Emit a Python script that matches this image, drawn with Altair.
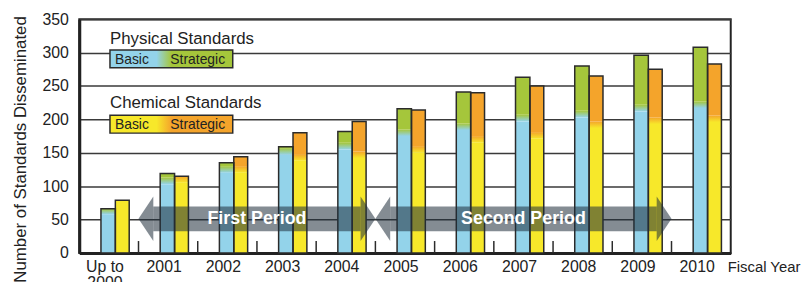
import altair as alt
import pandas as pd

# ---- data ----
year_labels = ["Up to\n2000", "2001", "2002", "2003", "2004", "2005",
               "2006", "2007", "2008", "2009", "2010"]
phys_basic = [63, 108, 125, 152, 160, 180, 189, 202, 208, 217, 222]
phys_strategic = [3, 11, 10, 7, 22, 36, 52, 61, 72, 79, 86]
chem_basic = [79, 110, 125, 143, 147, 155, 170, 176, 192, 198, 201]
chem_strategic = [0, 5, 19, 37, 50, 59, 70, 74, 73, 77, 82]

period_labels = ["First Period", "Second Period"]
period_start = [0.5, 4.5]
period_end = [4.5, 9.5]

y_ticks = [0, 50, 100, 150, 200, 250, 300, 350]

BLUE, GREEN = "#93D3EA", "#A5C63B"
YELLOW, ORANGE = "#F7E82A", "#F4A42B"
DARK = "#2b2b2b"
FONT = "Liberation Sans"

rows = []
for i in range(len(year_labels)):
    rows.append(dict(idx=i, series="Physical", basic=phys_basic[i], strategic=phys_strategic[i],
                     cb=BLUE, cs=GREEN))
    rows.append(dict(idx=i, series="Chemical", basic=chem_basic[i], strategic=chem_strategic[i],
                     cb=YELLOW, cs=ORANGE))
bars = pd.DataFrame(rows)
labels_df = pd.DataFrame({"idx": list(range(len(year_labels))), "label": year_labels})
bounds_df = pd.DataFrame({"b": [i + 0.5 for i in range(len(year_labels) - 1)]})
arrows_df = pd.DataFrame({"label": period_labels, "start": period_start, "end": period_end})

W, H = 658, 236
xscale = alt.Scale(domain=[-0.5, 10.5], nice=False, zero=False)
yscale = alt.Scale(domain=[0, 350], nice=False)

yaxis = alt.Axis(values=y_ticks, grid=True, gridColor="#3a3a3a", gridWidth=1.5,
                 domainColor="#222", domainWidth=3, ticks=False,
                 labelFontSize=16, labelColor="#222", labelPadding=11, labelFont=FONT,
                 title="Number of Standards Disseminated", titleFontSize=17,
                 titleFontWeight="normal", titleFont=FONT, titleColor="#222",
                 titlePadding=13, titleY=131)
xaxis = alt.Axis(labels=False, ticks=False, grid=False, domainColor="#222",
                 domainWidth=3, title=None)


def X(f):
    return alt.X(f, scale=xscale, axis=xaxis)


def Y(f):
    return alt.Y(f, scale=yscale, axis=yaxis)


base = alt.Chart(bars).transform_calculate(
    zero="0",
    total="datum.basic + datum.strategic",
    x0="datum.idx + (datum.series == 'Physical' ? -0.134 : 0.109)",
    x1="datum.idx + (datum.series == 'Physical' ? 0.109 : 0.343)",
    glo="datum.strategic > 0 ? max(0, datum.basic - 5) : datum.basic",
    ghi="min(datum.basic + datum.strategic, datum.basic + 5)",
)

basic_seg = base.mark_rect().encode(
    x=X("x0:Q"), x2="x1:Q", y=Y("zero:Q"), y2="glo:Q",
    color=alt.Color("cb:N", scale=None),
)

strat_seg = base.mark_rect().encode(
    x=X("x0:Q"), x2="x1:Q", y=Y("ghi:Q"), y2="total:Q",
    color=alt.Color("cs:N", scale=None),
).transform_filter("datum.strategic > 0")


def grad(c0, c1):
    return alt.Gradient(gradient="linear",
                        stops=[alt.GradientStop(color=c0, offset=0),
                               alt.GradientStop(color=c1, offset=1)],
                        x1=0, x2=0, y1=1, y2=0)


grad_phys = base.mark_rect(color=grad(BLUE, GREEN)).encode(
    x=X("x0:Q"), x2="x1:Q", y=Y("glo:Q"), y2="ghi:Q",
).transform_filter("datum.strategic > 0 && datum.series == 'Physical'")

grad_chem = base.mark_rect(color=grad(YELLOW, ORANGE)).encode(
    x=X("x0:Q"), x2="x1:Q", y=Y("glo:Q"), y2="ghi:Q",
).transform_filter("datum.strategic > 0 && datum.series == 'Chemical'")

outline = base.mark_rect(fillOpacity=0, stroke=DARK, strokeWidth=1.5).encode(
    x=X("x0:Q"), x2="x1:Q", y=Y("zero:Q"), y2="total:Q",
)

bticks = alt.Chart(bounds_df).mark_rule(color=DARK, strokeWidth=1.5).encode(
    x=X("b:Q"), y=alt.value(H), y2=alt.value(H - 12),
)

xlabels = alt.Chart(labels_df).mark_text(
    font=FONT, fontSize=16, color="#222", align="center", baseline="alphabetic",
    lineBreak="\n", lineHeight=16, dx=-4,
).encode(x=X("idx:Q"), y=alt.value(H + 19), text="label:N")

fiscal = alt.Chart(pd.DataFrame({"t": ["Fiscal Year"]})).mark_text(
    font=FONT, fontSize=15, color="#222", align="left", baseline="alphabetic",
).encode(x=alt.value(655), y=alt.value(H + 19), text="t:N")

ARROW = "#1f2d3a"
AOP = 0.55
arrows = alt.Chart(arrows_df).transform_calculate(
    s0="datum.start + 0.25", s1="datum.end - 0.25",
    hl="datum.start + 0.125", hr="datum.end - 0.125",
    mid="(datum.start + datum.end) / 2",
)
shaft = arrows.mark_rect(color=ARROW, opacity=AOP).encode(
    x=X("s0:Q"), x2="s1:Q", y=alt.value(189), y2=alt.value(214),
)
head_l = arrows.mark_point(shape="M-0.333,0L0.333,-1L0.333,1Z", filled=True, size=2025,
                           color=ARROW, opacity=AOP, strokeWidth=0).encode(
    x=X("hl:Q"), y=alt.value(201.5))
head_r = arrows.mark_point(shape="M0.333,0L-0.333,-1L-0.333,1Z", filled=True, size=2025,
                           color=ARROW, opacity=AOP, strokeWidth=0).encode(
    x=X("hr:Q"), y=alt.value(201.5))
atext = arrows.mark_text(font=FONT, fontSize=18, fontWeight="bold", color="white",
                         align="center", baseline="middle").encode(
    x=X("mid:Q"), y=alt.value(202), text="label:N")


# ---- legend (decoration) ----
def hgrad(c0, c1):
    return alt.Gradient(gradient="linear",
                        stops=[alt.GradientStop(color=c0, offset=0),
                               alt.GradientStop(color=c0, offset=0.38),
                               alt.GradientStop(color=c1, offset=0.5),
                               alt.GradientStop(color=c1, offset=1)],
                        x1=0, x2=1, y1=0, y2=0)


one = pd.DataFrame({"k": [0]})


def legend_block(title, ty, by, c0, c1):
    t = alt.Chart(one).mark_text(font=FONT, fontSize=17, color="#222", align="left",
                                 baseline="alphabetic", text=title).encode(
        x=alt.value(31), y=alt.value(ty))
    box = alt.Chart(one).mark_rect(color=hgrad(c0, c1), stroke=DARK, strokeWidth=1.5).encode(
        x=alt.value(31), x2=alt.value(155), y=alt.value(by), y2=alt.value(by + 18))
    b = alt.Chart(one).mark_text(font=FONT, fontSize=14, color="#222", align="left",
                                 baseline="alphabetic", text="Basic").encode(
        x=alt.value(36), y=alt.value(by + 14))
    s = alt.Chart(one).mark_text(font=FONT, fontSize=14, color="#222", align="left",
                                 baseline="alphabetic", text="Strategic").encode(
        x=alt.value(92), y=alt.value(by + 14))
    return [t, box, b, s]


legend_layers = legend_block("Physical Standards", 25, 31, BLUE, GREEN) + \
    legend_block("Chemical Standards", 90, 97, YELLOW, ORANGE)

chart = alt.layer(
    basic_seg, strat_seg, grad_phys, grad_chem, outline, bticks,
    shaft, head_l, head_r, atext, xlabels, fiscal, *legend_layers,
).properties(
    width=W, height=H,
    autosize=alt.AutoSizeParams(type="none"),
    padding={"left": 72, "top": 10, "right": 73, "bottom": 28},
).configure_view(stroke="#222", strokeWidth=2)

chart.save("out.html", embed_options={"renderer": "svg", "actions": False})
